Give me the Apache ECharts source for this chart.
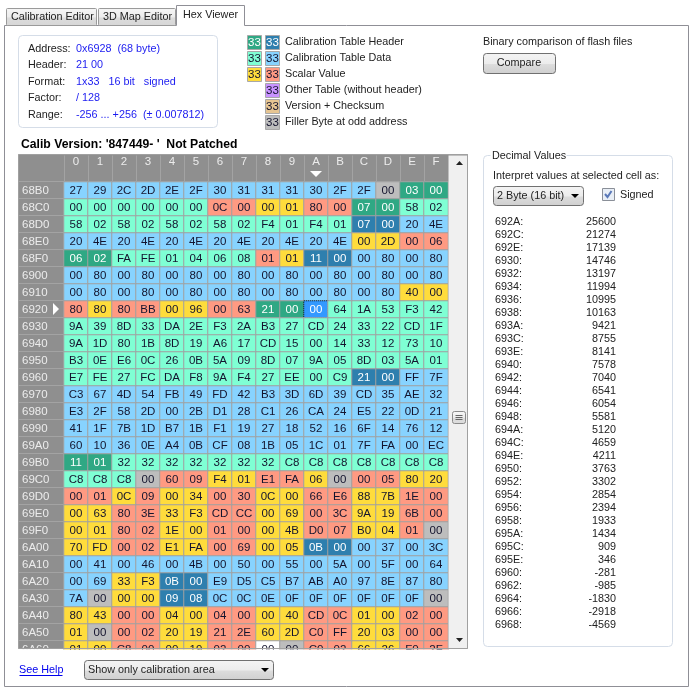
<!DOCTYPE html>
<html>
<head>
<meta charset="utf-8">
<title>Hex Viewer</title>
<script src="https://cdn.jsdelivr.net/npm/echarts@6/dist/echarts.min.js"></script>
<style>
  html, body { margin: 0; padding: 0; background: #fff; }
  #chart { width: 692px; height: 691px; }
</style>
</head>
<body>
<div id="chart"></div>
<script>
// tick labels
const columnLabels = ['0','1','2','3','4','5','6','7','8','9','A','B','C','D','E','F'];
const rowLabels = ['68B0','68C0','68D0','68E0','68F0','6900','6910','6920','6930','6940','6950','6960','6970','6980',
    '6990','69A0','69B0','69C0','69D0','69E0','69F0','6A00','6A10','6A20','6A30','6A40','6A50','6A60'];

// byte values, one row per address
const hexRows = [
    '27 29 2C 2D 2E 2F 30 31 31 31 30 2F 2F 00 03 00',
    '00 00 00 00 00 00 0C 00 00 01 80 00 07 00 58 02',
    '58 02 58 02 58 02 58 02 F4 01 F4 01 07 00 20 4E',
    '20 4E 20 4E 20 4E 20 4E 20 4E 20 4E 00 2D 00 06',
    '06 02 FA FE 01 04 06 08 01 01 11 00 00 80 00 80',
    '00 80 00 80 00 80 00 80 00 80 00 80 00 80 00 80',
    '00 80 00 80 00 80 00 80 00 80 00 80 00 80 40 00',
    '80 80 80 BB 00 96 00 63 21 00 00 64 1A 53 F3 42',
    '9A 39 8D 33 DA 2E F3 2A B3 27 CD 24 33 22 CD 1F',
    '9A 1D 80 1B 8D 19 A6 17 CD 15 00 14 33 12 73 10',
    'B3 0E E6 0C 26 0B 5A 09 8D 07 9A 05 8D 03 5A 01',
    'E7 FE 27 FC DA F8 9A F4 27 EE 00 C9 21 00 FF 7F',
    'C3 67 4D 54 FB 49 FD 42 B3 3D 6D 39 CD 35 AE 32',
    'E3 2F 58 2D 00 2B D1 28 C1 26 CA 24 E5 22 0D 21',
    '41 1F 7B 1D B7 1B F1 19 27 18 52 16 6F 14 76 12',
    '60 10 36 0E A4 0B CF 08 1B 05 1C 01 7F FA 00 EC',
    '11 01 32 32 32 32 32 32 32 C8 C8 C8 C8 C8 C8 C8',
    'C8 C8 C8 00 60 09 F4 01 E1 FA 06 00 00 05 80 20',
    '00 01 0C 09 00 34 00 30 0C 00 66 E6 88 7B 1E 00',
    '00 63 80 3E 33 F3 CD CC 00 69 00 3C 9A 19 6B 00',
    '00 01 80 02 1E 00 01 00 00 4B D0 07 B0 04 01 00',
    '70 FD 00 02 E1 FA 00 69 00 05 0B 00 00 37 00 3C',
    '00 41 00 46 00 4B 00 50 00 55 00 5A 00 5F 00 64',
    '00 69 33 F3 0B 00 E9 D5 C5 B7 AB A0 97 8E 87 80',
    '7A 00 00 00 09 08 0C 0C 0E 0F 0F 0F 0F 0F 0F 00',
    '80 43 00 00 04 00 04 00 00 40 CD 0C 01 00 02 00',
    '01 00 00 02 20 19 21 2E 60 2D C0 FF 20 03 00 00',
    '01 00 C8 00 00 19 02 00 00 00 C0 02 66 26 F0 2F'
];

// what each byte is: h/H table header, d/D table data, y/s scalar, g filler, w unused, x selected
const kindRows = [
    'DDDDDDDDDDDDDghh',
    'ddddddssyysshhdd',
    'ddddddddddddHHDD',
    'DDDDDDDDDDDDyyss',
    'hhddddddsyHHDDDD',
    'DDDDDDDDDDDDDDDD',
    'DDDDDDDDDDDDDDyy',
    'syssyysshhxddddd',
    'dddddddddddddddd',
    'dddddddddddddddd',
    'dddddddddddddddd',
    'ddddddddddddHHDD',
    'DDDDDDDDDDDDDDDD',
    'DDDDDDDDDDDDDDDD',
    'DDDDDDDDDDDDDDDD',
    'DDDDDDDDDDDDDDDD',
    'hhdddddddddddddd',
    'dddgssyyssygssyy',
    'ssysyyssyyssyyss',
    'yyssyyssyyssyyss',
    'yyssyyssyyssyysg',
    'yyssyyssyyHHDDDD',
    'DDDDDDDDDDDDDDDD',
    'DDyyHHDDDDDDDDDD',
    'DgyyHHDDDDDDDDDg',
    'yyssyyssyyssyyss',
    'ygssyyssyyssyyss',
    'yyssyysswgssyyss'
];

// decimal list on the right
const decimalAddresses = ['692A','692C','692E','6930','6932','6934','6936','6938','693A','693C','693E','6940','6942','6944','6946','6948',
    '694A','694C','694E','6950','6952','6954','6956','6958','695A','695C','695E','6960','6962','6964','6966','6968'];
const decimalValues = [25600,21274,17139,14746,13197,11994,10995,10163,9421,8755,8141,7578,7040,6541,6054,5581,
    5120,4659,4211,3763,3302,2854,2394,1933,1434,909,346,-281,-985,-1830,-2918,-4569];

// info box and legend
const infoLabels = ['Address:', 'Header:', 'Format:', 'Factor:', 'Range:'];
const infoValues = ['0x6928  (68 byte)', '21 00', '1x33   16 bit   signed', '/ 128', '-256 ... +256  (\u00b1 0.007812)'];
const legendLabels = ['Calibration Table Header', 'Calibration Table Data', 'Scalar Value', 'Other Table (without header)', 'Version + Checksum', 'Filler Byte at odd address'];
const legendKinds = [['h', 'H'], ['d', 'D'], ['y', 's'], ['p'], ['t'], ['g']];

const kindColors = {
    h: '#2fa884', H: '#2e7fae', d: '#7fffd4', D: '#87d3ff', y: '#ffdc3c', s: '#ff9a82',
    p: '#c893ff', t: '#e6c592', g: '#bdbdbd', w: '#ffffff', x: '#3399ff'
};
const lightText = 'hHx';

const FONT = '"Liberation Sans", Arial, sans-serif';
const BODY_SIZE = 10.8;
const CELL_SIZE = 11.5;
const TEXT = '#222222';
const BLUE = '#1c1cf0';

const chart = echarts.init(document.getElementById('chart'));

const cells = [];
hexRows.forEach((row, r) => {
    row.split(' ').forEach((hex, c) => {
        const kind = kindRows[r][c];
        const selected = kind === 'x';
        cells.push({
            value: [c, r, parseInt(hex, 16)],
            itemStyle: {
                color: kindColors[kind],
                borderColor: selected ? '#000' : '#a0a0a0',
                borderType: selected ? 'dotted' : 'solid'
            },
            label: { color: lightText.includes(kind) ? '#fff' : '#14142e' }
        });
    });
});

// small helpers for the window chrome around the grid
function text(str, x, y, opts) {
    opts = opts || {};
    return {
        type: 'text', z: 10,
        style: {
            text: str, x: x, y: y,
            fill: opts.fill || TEXT,
            font: (opts.bold ? 'bold ' : '') + (opts.size || BODY_SIZE) + 'px ' + FONT,
            align: opts.align || 'left',
            verticalAlign: 'middle'
        }
    };
}
function box(x, y, w, h, fill, stroke, r, z) {
    return {
        type: 'rect', z: z === undefined ? 5 : z,
        shape: { x: x + 0.5, y: y + 0.5, width: w, height: h, r: r || 0 },
        style: { fill: fill, stroke: stroke || null, lineWidth: 1 }
    };
}
function line(x1, y1, x2, y2, stroke, z) {
    return {
        type: 'line', z: z === undefined ? 1 : z,
        shape: { x1: x1 + 0.5, y1: y1 + 0.5, x2: x2 + 0.5, y2: y2 + 0.5 },
        style: { stroke: stroke, lineWidth: 1 }
    };
}
function triangle(points, fill) {
    return { type: 'polygon', z: 10, shape: { points: points }, style: { fill: fill } };
}
function vGradient(top, bottom) {
    return new echarts.graphic.LinearGradient(0, 0, 0, 1, [
        { offset: 0, color: top }, { offset: 0.5, color: '#ececec' }, { offset: 0.55, color: '#dcdcdc' }, { offset: 1, color: bottom }
    ]);
}

const chrome = [];

// tabs and panel
chrome.push(box(4, 25, 684, 661, '#fff', '#8f8f96', 0, -3));
chrome.push(box(6, 8, 90, 17, vGradient('#f6f6f6', '#d6d6d6'), '#9a9a9a', 1));
chrome.push(box(98, 8, 77, 17, vGradient('#f6f6f6', '#d6d6d6'), '#9a9a9a', 1));
chrome.push(box(176, 5, 68, 21, '#fff', null));
chrome.push(line(176, 5, 244, 5, '#8f8f96', 6), line(176, 5, 176, 25, '#8f8f96', 6), line(244, 5, 244, 25, '#8f8f96', 6));
chrome.push(text('Calibration Editor', 11, 17), text('3D Map Editor', 103, 17), text('Hex Viewer', 183, 15));

// info box
chrome.push(box(18, 35, 199, 92, '#fff', '#d5dde8', 4));
infoLabels.forEach((label, i) => {
    const y = 49 + i * 16.5;
    chrome.push(text(label, 28, y), text(infoValues[i], 76, y, { fill: BLUE }));
});

// legend
legendLabels.forEach((label, i) => {
    const y = 42 + i * 16;
    const kinds = legendKinds[i];
    kinds.forEach((kind, k) => {
        const x = kinds.length === 2 ? 247 + k * 18 : 265;
        chrome.push(box(x, y - 7, 14, 14, kindColors[kind], '#a8a8a8'));
        chrome.push(text('33', x + 7.5, y + 0.5, { align: 'center', size: CELL_SIZE, fill: lightText.includes(kind) ? '#fff' : '#14142e' }));
    });
    chrome.push(text(label, 285, y));
});

// compare button
chrome.push(text('Binary comparison of flash files', 483, 42));
chrome.push(box(483, 53, 72, 20, vGradient('#f4f4f4', '#cfcfcf'), '#707070', 3));
chrome.push(text('Compare', 519, 63, { align: 'center' }));

chrome.push(text("Calib Version: '847449- '  Not Patched", 21, 145, { bold: true, size: 12.2, fill: '#000' }));

// grey background of the grid, header and row separators
chrome.push(box(18, 154, 449, 494, '#8f8f8f', '#a0a0a0', 0, -1));
columnLabels.forEach((c, i) => {
    chrome.push(line(64 + i * 24, 155, 64 + i * 24, 181, '#a3a3a3', 0));
});
chrome.push(line(18, 181, 448, 181, '#a3a3a3', 0));
rowLabels.forEach((r, i) => {
    chrome.push(line(18, 198 + i * 17, 63, 198 + i * 17, '#a3a3a3', 0));
});

// current column / row markers
chrome.push(triangle([[310, 171], [322, 171], [316, 177]], '#fff'));
chrome.push(triangle([[53, 303], [59, 309], [53, 315]], '#fff'));

// scrollbar
chrome.push(box(448, 155, 19, 493, '#f0f0f0', null));
chrome.push(triangle([[456, 165], [463, 165], [459.5, 161]], '#222'));
chrome.push(triangle([[456, 638], [463, 638], [459.5, 642]], '#222'));
chrome.push(box(452, 411, 13, 12, vGradient('#f8f8f8', '#dcdcdc'), '#8a8a8a', 2));
chrome.push(line(455, 415, 462, 415, '#666', 6), line(455, 417, 462, 417, '#666', 6), line(455, 419, 462, 419, '#666', 6));

// clips the last row like the scrolled viewport does
chrome.push(box(17, 649, 452, 10, '#fff', null, 0, 8));
chrome.push(line(18, 648, 467, 648, '#a0a0a0', 9), line(467, 154, 467, 648, '#a0a0a0', 9), line(18, 154, 467, 154, '#a0a0a0', 9));

// decimal values group
chrome.push(box(483, 155, 189, 491, '#fff', '#d5dde8', 4));
chrome.push(box(490, 150, 76, 10, '#fff', null, 0, 6));
chrome.push(text('Decimal Values', 492, 156));
chrome.push(text('Interpret values at selected cell as:', 493, 176));
chrome.push(box(493, 186, 90, 19, vGradient('#f4f4f4', '#cfcfcf'), '#707070', 3));
chrome.push(text('2 Byte (16 bit)', 497, 196));
chrome.push(triangle([[571, 194], [579, 194], [575, 198]], '#000'));
chrome.push(box(602, 188, 12, 12, '#e8eef6', '#8a8f98'));
chrome.push({
    type: 'polyline', z: 10,
    shape: { points: [[605, 194], [607.5, 197], [611.5, 191]] },
    style: { stroke: '#5a78b8', lineWidth: 2, fill: null }
});
chrome.push(text('Signed', 620, 195));
decimalAddresses.forEach((addr, i) => {
    const y = 222 + i * 13;
    chrome.push(text(addr + ':', 495, y), text(String(decimalValues[i]), 616, y, { align: 'right' }));
});

// footer
chrome.push(text('See Help', 19, 670, { fill: '#0000ee' }));
chrome.push(line(19, 675, 62, 675, '#0000ee', 10));
chrome.push(box(84, 660, 189, 19, vGradient('#f4f4f4', '#cfcfcf'), '#707070', 3));
chrome.push(text('Show only calibration area', 88, 670));
chrome.push(triangle([[261, 668], [269, 668], [265, 672]], '#000'));

const option = {
    animation: false,
    backgroundColor: '#fff',
    textStyle: { fontFamily: FONT },
    grid: { left: 64, top: 182, width: 384, height: 476 },
    xAxis: {
        type: 'category',
        position: 'top',
        data: columnLabels,
        axisLine: { show: false },
        axisTick: { show: false },
        splitLine: { show: false },
        axisLabel: { interval: 0, color: '#ececec', fontSize: CELL_SIZE, margin: 14, fontFamily: FONT }
    },
    yAxis: {
        type: 'category',
        inverse: true,
        data: rowLabels,
        axisLine: { show: false },
        axisTick: { show: false },
        splitLine: { show: false },
        axisLabel: { interval: 0, color: '#ececec', fontSize: CELL_SIZE, margin: 42, align: 'left', fontFamily: FONT }
    },
    series: [{
        type: 'heatmap',
        data: cells,
        encode: { x: 0, y: 1 },
        itemStyle: { borderWidth: 1 },
        label: {
            show: true,
            fontSize: CELL_SIZE,
            fontFamily: FONT,
            formatter: params => params.value[2].toString(16).toUpperCase().padStart(2, '0')
        },
        emphasis: { disabled: true }
    }],
    graphic: { elements: chrome }
};

chart.setOption(option);
</script>
</body>
</html>
